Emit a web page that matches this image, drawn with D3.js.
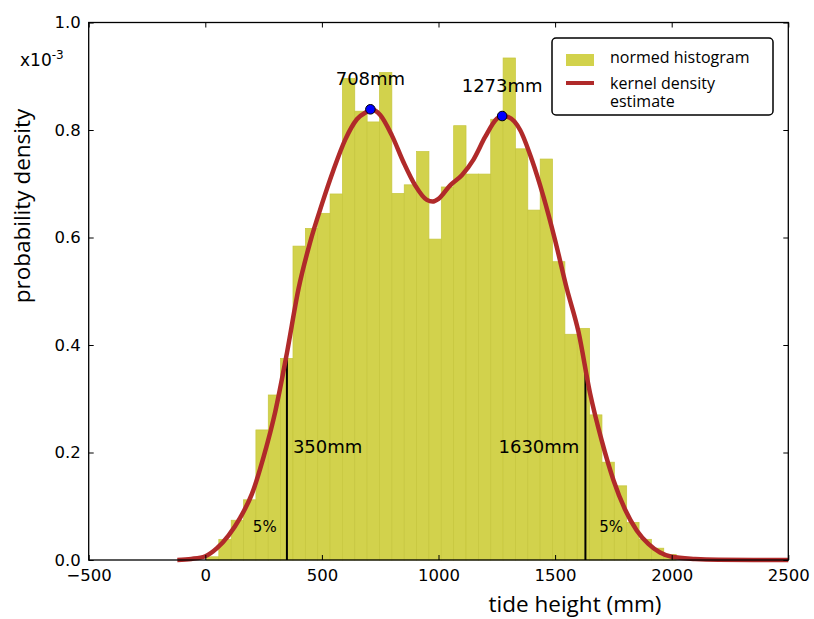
<!DOCTYPE html>
<html>
<head>
<meta charset="utf-8">
<script src="https://cdn.jsdelivr.net/npm/d3@7"></script>
<style>
  body { margin: 0; background: #fff; }
  svg { display: block; }
</style>
</head>
<body>
<div id="chart"></div>
<script>
// histogram: 38 bins, first edge and width in mm, heights in 1e-3 per mm
const binStart = 5;
const binWidth = 53;
const histValues = [
  0.006, 0.0385, 0.074, 0.112, 0.242, 0.307, 0.375, 0.584, 0.617, 0.645,
  0.681, 0.896, 0.835, 0.815, 0.907, 0.682, 0.698, 0.760, 0.597, 0.694,
  0.808, 0.718, 0.718, 0.820, 0.934, 0.765, 0.651, 0.746, 0.555, 0.420,
  0.431, 0.270, 0.182, 0.138, 0.070, 0.0385, 0.022, 0.010
];

// kernel density estimate
const kdeX = [-120, -60, 0, 50, 100, 150, 200, 250, 300, 350, 400, 450, 500, 550, 600, 650, 700, 708,
  750, 800, 850, 900, 950, 975, 1000, 1050, 1100, 1150, 1200, 1250, 1273, 1300, 1350, 1400, 1450,
  1500, 1550, 1600, 1650, 1700, 1750, 1800, 1850, 1900, 1950, 2000, 2100, 2200, 2350, 2500];
const kdeY = [0, 0.002, 0.007, 0.022, 0.046, 0.079, 0.123, 0.192, 0.276, 0.385, 0.505, 0.592, 0.662, 0.726,
  0.782, 0.820, 0.836, 0.8385, 0.828, 0.790, 0.740, 0.697, 0.670, 0.667, 0.672, 0.697, 0.716, 0.745,
  0.787, 0.821, 0.826, 0.824, 0.800, 0.745, 0.676, 0.595, 0.505, 0.425, 0.310, 0.222, 0.149, 0.094,
  0.055, 0.030, 0.014, 0.006, 0.002, 0.0005, 0.0001, 0];

const peakX = [708, 1273];
const peakY = [0.8385, 0.826];
const quantX = [350, 1630];
const quantY = [0.385, 0.352];
const tailX = [255, 1740];
const tailLabel = ["5%", "5%"];

const xTicks = [-500, 0, 500, 1000, 1500, 2000, 2500];
const yTicks = [0.0, 0.2, 0.4, 0.6, 0.8, 1.0];

const W = 814, H = 619;
const margin = { top: 22.5, right: 25.7, bottom: 59, left: 88.7 };
const width = W - margin.left - margin.right;
const height = H - margin.top - margin.bottom;

const svg = d3.select("#chart").append("svg")
  .attr("width", W)
  .attr("height", H);

const g = svg.append("g")
  .attr("transform", `translate(${margin.left},${margin.top})`);

const x = d3.scaleLinear().domain([-500, 2500]).range([0, width]);
const y = d3.scaleLinear().domain([0, 1.0]).range([height, 0]);

// bars
g.append("g")
  .selectAll("rect")
  .data(histValues)
  .join("rect")
  .attr("x", (d, i) => x(binStart + i * binWidth))
  .attr("y", d => y(d))
  .attr("width", x(binWidth) - x(0))
  .attr("height", d => y(0) - y(d))
  .attr("fill", "#d2d24c")
  .attr("stroke", "#c6c63d")
  .attr("stroke-width", 0.7);

// quantile lines
g.append("g")
  .selectAll("line")
  .data(quantX)
  .join("line")
  .attr("x1", d => x(d))
  .attr("x2", d => x(d))
  .attr("y1", y(0))
  .attr("y2", (d, i) => y(quantY[i]))
  .attr("stroke", "#000")
  .attr("stroke-width", 2);

// kde curve
const kde = kdeX.map((v, i) => ({ x: v, y: kdeY[i] }));
const line = d3.line()
  .x(d => x(d.x))
  .y(d => y(d.y))
  .curve(d3.curveMonotoneX);

g.append("path")
  .datum(kde)
  .attr("fill", "none")
  .attr("stroke", "#b02a2a")
  .attr("stroke-width", 4.5)
  .attr("d", line);

// peaks
g.append("g")
  .selectAll("circle")
  .data(peakX)
  .join("circle")
  .attr("cx", d => x(d))
  .attr("cy", (d, i) => y(peakY[i]))
  .attr("r", 4.8)
  .attr("fill", "#0000ff")
  .attr("stroke", "#000")
  .attr("stroke-width", 1);

g.append("g")
  .selectAll("text")
  .data(peakX)
  .join("text")
  .attr("x", d => x(d))
  .attr("y", (d, i) => y(peakY[i]) - 24)
  .attr("text-anchor", "middle")
  .style("font-family", "DejaVu Sans")
  .style("font-size", "18px")
  .text(d => d + "mm");

g.append("g")
  .selectAll("text")
  .data(quantX)
  .join("text")
  .attr("x", (d, i) => x(d) + (i === 0 ? 6 : -6))
  .attr("y", y(0.2))
  .attr("text-anchor", (d, i) => i === 0 ? "start" : "end")
  .style("font-family", "DejaVu Sans")
  .style("font-size", "18px")
  .text(d => d + "mm");

g.append("g")
  .selectAll("text")
  .data(tailX)
  .join("text")
  .attr("x", d => x(d))
  .attr("y", y(0.052))
  .attr("text-anchor", "middle")
  .style("font-family", "DejaVu Sans")
  .style("font-size", "15px")
  .text((d, i) => tailLabel[i]);

// axes, ticks inward
g.append("g")
  .attr("class", "axis")
  .attr("transform", `translate(0,${height})`)
  .call(d3.axisBottom(x).tickValues(xTicks).tickSize(-5).tickPadding(9).tickFormat(d3.format("d")));
g.append("g")
  .attr("class", "axis")
  .call(d3.axisTop(x).tickValues(xTicks).tickSize(-5).tickFormat(""));
g.append("g")
  .attr("class", "axis")
  .call(d3.axisLeft(y).tickValues(yTicks).tickSize(-5).tickPadding(8).tickFormat(d3.format(".1f")));
g.append("g")
  .attr("class", "axis")
  .attr("transform", `translate(${width},0)`)
  .call(d3.axisRight(y).tickValues(yTicks).tickSize(-5).tickFormat(""));

g.selectAll(".axis .domain").remove();
g.selectAll(".axis line").attr("stroke", "#000").attr("stroke-width", 1);
g.selectAll(".axis text")
  .style("font-family", "DejaVu Sans")
  .style("font-size", "16.5px")
  .attr("fill", "#000");

g.append("rect")
  .attr("width", width)
  .attr("height", height)
  .attr("fill", "none")
  .attr("stroke", "#000")
  .attr("stroke-width", 1.3);

// scale factor
const sci = svg.append("text")
  .attr("x", 20)
  .attr("y", 66)
  .style("font-family", "DejaVu Sans")
  .style("font-size", "17px");
sci.append("tspan").text("x10");
sci.append("tspan").attr("dy", -7).style("font-size", "12px").text("-3");

// axis labels
svg.append("text")
  .attr("x", 575)
  .attr("y", 612)
  .attr("text-anchor", "middle")
  .style("font-family", "Open Sans")
  .style("font-size", "22.5px")
  .text("tide height (mm)");

svg.append("text")
  .attr("transform", "translate(30,206) rotate(-90)")
  .attr("text-anchor", "middle")
  .style("font-family", "Open Sans")
  .style("font-size", "22.5px")
  .text("probability density");

// legend
const lg = svg.append("g").attr("transform", "translate(552,38)");
lg.append("rect")
  .attr("width", 221)
  .attr("height", 77)
  .attr("rx", 4)
  .attr("fill", "#fff")
  .attr("stroke", "#000")
  .attr("stroke-width", 1.5);
lg.append("rect")
  .attr("x", 14).attr("y", 16)
  .attr("width", 28).attr("height", 12)
  .attr("fill", "#d2d24c");
lg.append("line")
  .attr("x1", 14).attr("x2", 42)
  .attr("y1", 45).attr("y2", 45)
  .attr("stroke", "#b02a2a")
  .attr("stroke-width", 4);
const legendText = [["normed histogram", 25], ["kernel density", 51], ["estimate", 69]];
lg.selectAll("text.lt")
  .data(legendText)
  .join("text")
  .attr("class", "lt")
  .attr("x", 58)
  .attr("y", d => d[1])
  .style("font-family", "Open Sans")
  .style("font-size", "16px")
  .text(d => d[0]);
</script>
</body>
</html>
